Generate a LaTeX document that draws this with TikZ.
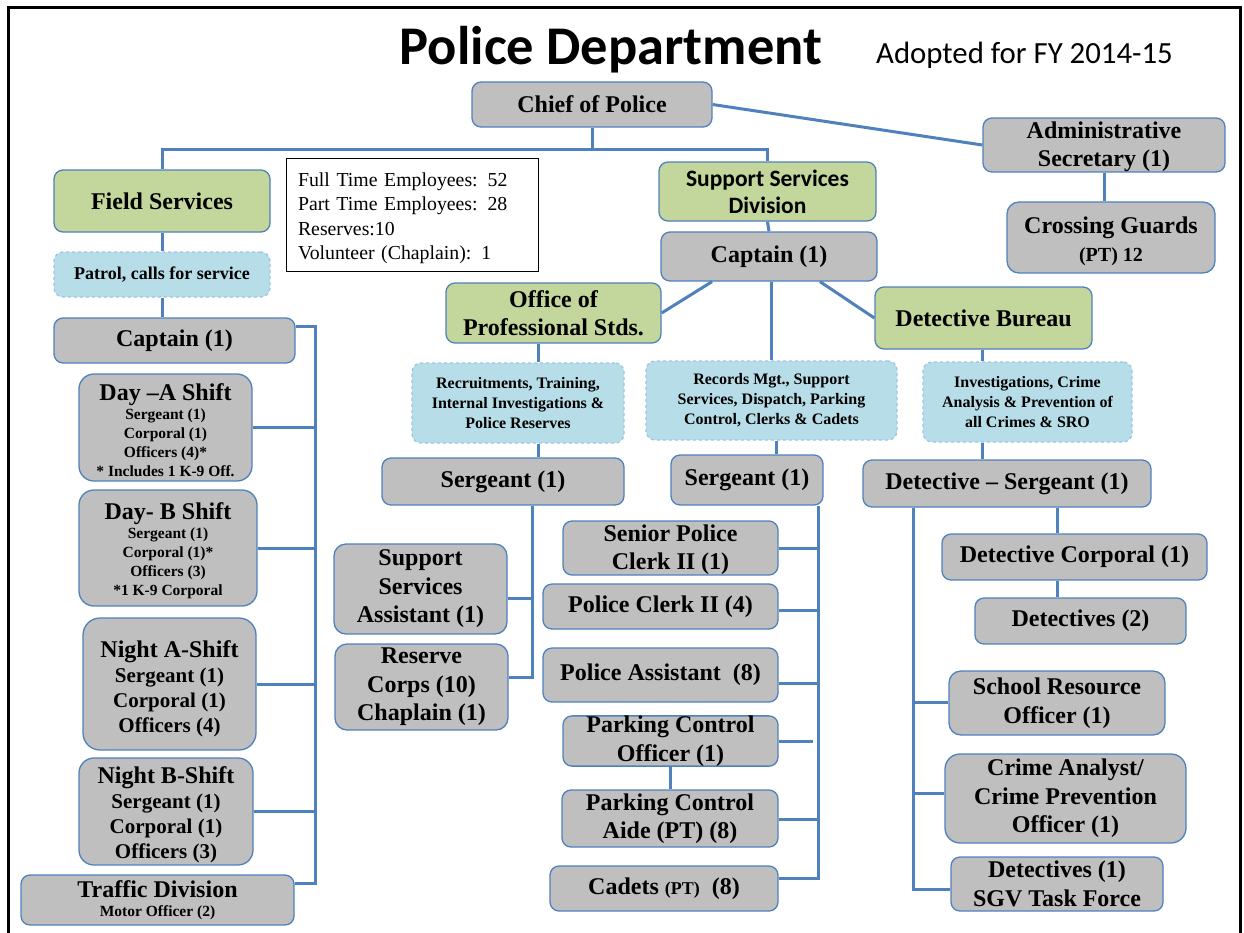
\documentclass[tikz,border=0pt]{standalone}
\usepackage{fontspec}
\setmainfont{Liberation Serif}
\newfontfamily\calib{Carlito}
\usetikzlibrary{calc}
\definecolor{boxgray}{HTML}{BFBFBF}
\definecolor{boxblue}{HTML}{4F81BD}
\definecolor{boxgreen}{HTML}{C3D69B}
\definecolor{boxlb}{HTML}{B7DEE8}
\definecolor{dashblue}{HTML}{9DC3E6}
\newcommand\fz[2]{\fontsize{#1}{#2}\selectfont}
\newcommand\nudge[1]{\rule{0pt}{#1pt}}
\newcommand\bx[7]{\node[#6, minimum width={(#4-#2)*1pt}, minimum height={(#5-#3)*1pt}] (#1) at ({(#2+#4)/2},{(#3+#5)/2}) {#7};}
\tikzset{
  gbox/.style={fill=boxgray, draw=boxblue, line width=1.3pt, rounded corners=9pt, align=center, font=\bfseries\fz{24}{28.5}, inner sep=0pt},
  grbox/.style={gbox, fill=boxgreen},
  lbbox/.style={gbox, fill=boxlb, draw=dashblue, dashed, font=\bfseries\fz{16}{20}},
  smallbox/.style={gbox, font=\bfseries\fz{15.5}{19}},
  conn/.style={draw=boxblue, line width=3pt},
}
\begin{document}
\begin{tikzpicture}[x=1pt,y=-1pt]
\useasboundingbox (0,0) rectangle (1244,932);
\draw[line width=3pt] (8,945) -- (8,7) -- (1240,7) -- (1240,945);
% title
\node[anchor=base, inner sep=0pt] (title) at (611,64) {\calib\bfseries\fz{54.5}{60}Police Department};
\node[anchor=base west, inner sep=0pt] (adopted) at (876,63) {\calib\fz{30.8}{34}Adopted for FY 2014-15};
% top
\bx{chief}{472}{82}{712}{127}{gbox}{Chief of Police}
\bx{admin}{983}{118}{1225}{172}{gbox}{\nudge{20}Administrative\\Secretary (1)}
\bx{cross}{1007}{202}{1215}{273}{gbox, rounded corners=12pt}{\nudge{24}Crossing Guards\\{\fz{20}{22}(PT) 12}}
\node[draw=black, line width=1pt, fill=white, text width=228pt, inner xsep=12pt, inner ysep=0pt, minimum height=113pt, align=left, font=\fz{19.8}{24.5}] (info) at (412,214.5) {\nudge{21}Full Time Employees: 52\\Part Time Employees: 28\\Reserves:10\\Volunteer (Chaplain): 1};
% field services
\bx{field}{54}{170}{270}{232}{grbox}{Field Services}
\bx{patrol}{54}{252}{270}{297}{lbbox, font=\bfseries\fz{18}{20}}{Patrol, calls for service}
\bx{cap1}{54}{318}{295}{363}{gbox}{Captain (1)}
\bx{dayA}{79}{374}{252}{481}{smallbox, rounded corners=15pt}{{\fz{24}{24}\nudge{22}Day –A Shift}\\Sergeant (1)\\Corporal (1)\\Officers (4)*\\* Includes 1 K-9 Off.}
\bx{dayB}{79}{490}{257}{606}{smallbox, rounded corners=15pt}{{\fz{24}{24}\nudge{22}Day- B Shift}\\Sergeant (1)\\Corporal (1)*\\Officers (3)\\*1 K-9 Corporal}
\bx{nightA}{83}{618}{256}{750}{gbox, rounded corners=17pt, font=\bfseries\fz{21}{25}}{{\fz{24}{25}\nudge{27}Night A-Shift}\\Sergeant (1)\\Corporal (1)\\Officers (4)}
\bx{nightB}{79}{758}{253}{865}{gbox, rounded corners=15pt, font=\bfseries\fz{21}{25}}{{\fz{24}{25}\nudge{23}Night B-Shift}\\Sergeant (1)\\Corporal (1)\\Officers (3)}
\bx{traffic}{21}{875}{294}{925}{smallbox}{{\fz{24}{24}Traffic Division}\\Motor Officer (2)}
% support services
\bx{ssd}{659}{162}{876}{221}{grbox, font=\calib\bfseries\fz{23.5}{27}}{Support Services\\Division}
\bx{cap2}{661}{232}{877}{281}{gbox}{Captain (1)}
\bx{ops}{446}{283}{661}{343}{grbox}{Office of\\Professional Stds.}
\bx{det}{875}{287}{1092}{349}{grbox}{Detective Bureau}
\bx{recr}{412}{363}{624}{443}{lbbox}{Recruitments, Training,\\Internal Investigations \&\\Police Reserves}
\bx{rec}{646}{361}{897}{440}{lbbox}{Records Mgt., Support\\Services, Dispatch, Parking\\Control, Clerks \& Cadets}
\bx{inv}{923}{362}{1132}{442}{lbbox}{Investigations, Crime\\Analysis \& Prevention of\\all Crimes \& SRO}
\bx{sgt1}{382}{458}{624}{505}{gbox}{Sergeant (1)}
\bx{sgt2}{671}{455}{823}{505}{gbox}{Sergeant (1)}
\bx{detsgt}{863}{460}{1151}{507}{gbox}{Detective – Sergeant (1)}
\bx{ssa}{334}{544}{507}{634}{gbox, rounded corners=12pt}{Support\\Services\\Assistant (1)}
\bx{res}{335}{644}{508}{730}{gbox, rounded corners=12pt}{Reserve\\Corps (10)\\Chaplain (1)}
\bx{spc}{563}{521}{778}{575}{gbox}{\nudge{20}Senior Police\\Clerk II (1)}
\bx{pc2}{543}{584}{778}{629}{gbox}{Police Clerk II (4)}
\bx{pa}{543}{648}{778}{702}{gbox}{Police Assistant~~(8)}
\bx{pco}{563}{717}{778}{765}{gbox}{Parking Control\\Officer (1)}
\bx{pca}{562}{790}{778}{847}{gbox}{Parking Control\\Aide (PT) (8)}
\bx{cadets}{550}{866}{778}{911}{gbox}{Cadets {\fz{18}{20}(PT)}~~(8)}
\bx{detcorp}{942}{534}{1207}{580}{gbox}{Detective Corporal (1)}
\bx{dets2}{975}{598}{1186}{644}{gbox}{Detectives (2)}
\bx{sro}{949}{671}{1165}{735}{gbox, rounded corners=12pt}{School Resource\\Officer (1)}
\bx{ca}{945}{754}{1186}{843}{gbox, rounded corners=15pt}{Crime Analyst/\\Crime Prevention\\Officer (1)}
\bx{sgv}{951}{857}{1163}{911}{gbox}{Detectives (1)\\SGV Task Force}
% connectors
\coordinate (bus) at (592,149);
\draw[conn] (chief.south) -- (bus);
\draw[conn] (field.north) |- (bus) -| (ssd.north);
\draw[conn] (chief.east) -- (admin.west);
\draw[conn] (admin.south) -- (admin.south |- cross.north);
\draw[conn] (field.south) -- (patrol.north);
\draw[conn] (patrol.south) -- (patrol.south |- cap1.north);
\coordinate (brTop) at (315,326);
\coordinate (brBot) at (315,883);
\draw[conn] (cap1.east |- brTop) -- (brTop) -- (brBot) -- (traffic.east |- brBot);
\foreach \n in {dayA,dayB,nightA,nightB} \draw[conn] (\n.east) -- (\n.east -| brTop);
\draw[conn] (ssd.south) -- (cap2.north);
\draw[conn] ([xshift=-57pt]cap2.south) -- (ops.east);
\draw[conn] ([xshift=51pt]cap2.south) -- (det.west);
\draw[conn] (cap2.south -| rec.north) -- (rec.north);
\draw[conn] (ops.south -| 538,0) -- (recr.north -| 538,0);
\draw[conn] (recr.south -| 538,0) -- (sgt1.north -| 538,0);
\coordinate (b1) at (532,677);
\draw[conn] (sgt1.south -| b1) -- (b1) -- (res.east |- b1);
\draw[conn] (ssa.east |- 0,598) -- (532,598);
\draw[conn] (rec.south -| 776,0) -- (sgt2.north -| 776,0);
\coordinate (b2) at (818,878);
\draw[conn] (sgt2.south -| b2) -- (b2) -- (cadets.east |- b2);
\draw[conn] (spc.east |- 0,548) -- (818,548);
\draw[conn] (pc2.east |- 0,610) -- (818,610);
\draw[conn] (pa.east |- 0,683) -- (818,683);
\coordinate (pcoEnd) at (813,741);
\draw[conn] (pco.east |- pcoEnd) -- (pcoEnd);
\draw[conn] (pca.east |- 0,819) -- (818,819);
\draw[conn] (pco.south) -- (pca.north -| pco.south);
\draw[conn] (det.south -| 982,0) -- (inv.north -| 982,0);
\draw[conn] (inv.south -| 982,0) -- (detsgt.north -| 982,0);
\coordinate (b3) at (913,889);
\draw[conn] (detsgt.south -| b3) -- (b3) -- (sgv.west |- b3);
\draw[conn] (sro.west |- 0,702) -- (913,702);
\draw[conn] (ca.west |- 0,793) -- (913,793);
\draw[conn] (detsgt.south -| 1057,0) -- (detcorp.north -| 1057,0);
\draw[conn] (detcorp.south -| 1057,0) -- (dets2.north -| 1057,0);
\end{tikzpicture}
\end{document}
